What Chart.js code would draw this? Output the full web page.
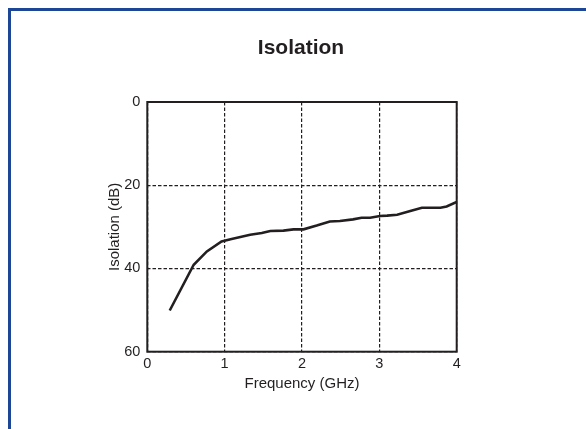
<!DOCTYPE html>
<html>
<head>
<meta charset="utf-8">
<script src="https://cdn.jsdelivr.net/npm/chart.js@4/dist/chart.umd.min.js"></script>
<style>
  html, body { margin: 0; padding: 0; background: #ffffff; }
  #wrap { position: relative; width: 586px; height: 429px; overflow: hidden; }
  #frame { position: absolute; left: 8px; top: 8px; width: 700px; height: 600px;
           border-left: 3px solid #1e4697; border-top: 3px solid #1e4697; box-sizing: border-box; }
  canvas { position: absolute; left: 0; top: 0; }
</style>
</head>
<body>
<div id="wrap">
  <div id="frame"></div>
  <canvas id="c" width="586" height="429"></canvas>
</div>
<script>
// Frequency (GHz)
const frequency = [0.29, 0.60, 0.77, 0.96, 1.09, 1.33, 1.48, 1.59, 1.76, 1.89, 2.02, 2.19, 2.36, 2.49, 2.66, 2.77, 2.88, 3.01, 3.10, 3.23, 3.40, 3.55, 3.66, 3.79, 3.87, 4.00];
// Isolation (dB)
const isolation = [50.1, 39.1, 35.9, 33.5, 32.9, 31.9, 31.5, 31.0, 30.9, 30.6, 30.6, 29.7, 28.7, 28.6, 28.2, 27.8, 27.8, 27.4, 27.3, 27.1, 26.2, 25.4, 25.4, 25.4, 25.1, 24.0];
const xTicks = [0, 1, 2, 3, 4];
const yTicks = [0, 20, 40, 60];

const FONT = '"Liberation Sans", Arial, Helvetica, sans-serif';
const INK = '#231f20';

const boxPlugin = {
  id: 'box',
  afterDatasetsDraw(chart) {
    const a = chart.chartArea, ctx = chart.ctx;
    ctx.save();
    ctx.strokeStyle = INK;
    ctx.lineWidth = 2;
    ctx.setLineDash([]);
    ctx.strokeRect(a.left, a.top, a.right - a.left, a.bottom - a.top);
    ctx.restore();
  }
};

new Chart(document.getElementById('c'), {
  type: 'line',
  data: {
    datasets: [{
      data: frequency.map((f, i) => ({ x: f, y: isolation[i] })),
      borderColor: INK,
      borderWidth: 2.6,
      pointRadius: 0,
      tension: 0,
      fill: false,
      yAxisID: 'y'
    }]
  },
  options: {
    responsive: false,
    animation: false,
    layout: { padding: { left: 16, right: 0, top: 0, bottom: 0 } },
    plugins: {
      legend: { display: false },
      tooltip: { enabled: false },
      title: {
        display: true,
        text: 'Isolation',
        color: INK,
        font: { family: FONT, size: 21, weight: 'bold', lineHeight: 1.2 },
        padding: { top: 35.9, bottom: 40.9 }
      }
    },
    scales: {
      x: {
        type: 'linear',
        min: 0, max: 4,
        afterBuildTicks: s => { s.ticks = xTicks.map(v => ({ value: v })); },
        afterFit: s => { s.height = 77.3; },
        ticks: { color: INK, font: { family: FONT, size: 14.5 }, padding: 4, maxRotation: 0 },
        grid: { color: INK, lineWidth: 1.2, drawTicks: false },
        border: { display: false, dash: [3.5, 2] },
        title: {
          display: true, text: 'Frequency (GHz)', color: INK,
          font: { family: FONT, size: 15, lineHeight: 1.2 },
          padding: { top: 0, bottom: 36.5 }
        }
      },
      y: {
        type: 'linear',
        position: 'left',
        reverse: true,
        min: 0, max: 60,
        afterBuildTicks: s => { s.ticks = yTicks.map(v => ({ value: v })); },
        afterFit: s => { s.width = 131.3; },
        ticks: { color: INK, font: { family: FONT, size: 14.5 }, padding: 7 },
        grid: { color: INK, lineWidth: 1.2, drawTicks: false },
        border: { display: false, dash: [3.5, 2] },
        title: {
          display: true, text: 'Isolation (dB)', color: INK,
          font: { family: FONT, size: 15, lineHeight: 1.2 },
          padding: { top: 90, bottom: 0 }
        }
      },
      spacer: {
        type: 'linear',
        position: 'right',
        display: true,
        min: 0, max: 1,
        afterFit: s => { s.width = 129.3; },
        ticks: { display: false },
        grid: { display: false, drawTicks: false },
        border: { display: false }
      }
    }
  },
  plugins: [boxPlugin]
});
</script>
</body>
</html>
